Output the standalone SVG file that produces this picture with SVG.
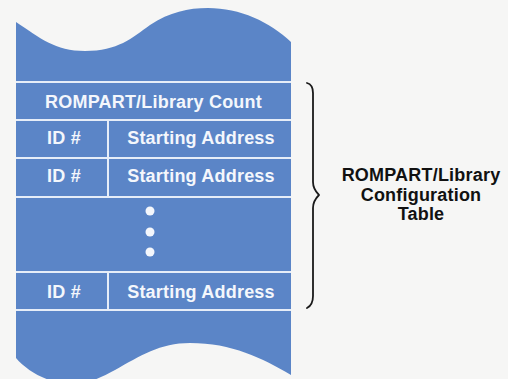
<svg xmlns="http://www.w3.org/2000/svg" width="508" height="379" viewBox="0 0 508 379">
<style>
.bg{fill:#f6f6f5}
.shape{fill:#5b85c7}
.rule{stroke:#e6edf8;stroke-width:2;fill:none}
.cell{font-family:"Liberation Sans",Arial,sans-serif;font-weight:bold;font-size:18px;letter-spacing:0.2px;fill:#f4f7fc;text-anchor:middle}
.dot{fill:#f4f7fc}
.brace{stroke:#1a1a1a;stroke-width:1.8;fill:none;stroke-linecap:round;stroke-linejoin:round}
.label{font-family:"Liberation Sans",Arial,sans-serif;font-weight:bold;font-size:18px;letter-spacing:0.2px;fill:#111;text-anchor:middle}
</style>
<rect class="bg" x="0" y="0" width="508" height="379"/>
<g id="table">
<path class="shape" d="M16,22 C40,38 55,51 85,51 C118,51 132,38 150,25 C170,12 188,8 208,8 C240,8 270,22 291,42 L291,375 C262,358 232,343 190,343 C160,343 140,356 115,370 C100,378 88,384 72,384 C50,384 28,372 16,358 Z"/>
</g>
<g id="connectors">
<line class="rule" x1="16" y1="82" x2="291" y2="82"/>
<line class="rule" x1="16" y1="120" x2="291" y2="120"/>
<line class="rule" x1="16" y1="158" x2="291" y2="158"/>
<line class="rule" x1="16" y1="197" x2="291" y2="197"/>
<line class="rule" x1="16" y1="272" x2="291" y2="272"/>
<line class="rule" x1="16" y1="310" x2="291" y2="310"/>
<line class="rule" x1="108" y1="120" x2="108" y2="197"/>
<line class="rule" x1="108" y1="272" x2="108" y2="310"/>
</g>
<g id="count-row">
<text class="cell" x="153.5" y="107.5">ROMPART/Library Count</text>
</g>
<g id="entry-1">
<text class="cell" x="64" y="143.5">ID #</text>
<text class="cell" x="201" y="143.5">Starting Address</text>
</g>
<g id="entry-2">
<text class="cell" x="64" y="182">ID #</text>
<text class="cell" x="201" y="182">Starting Address</text>
</g>
<g id="ellipsis">
<circle class="dot" cx="150" cy="211" r="4.5"/>
<circle class="dot" cx="150" cy="232" r="4.5"/>
<circle class="dot" cx="150" cy="252" r="4.5"/>
</g>
<g id="entry-n">
<text class="cell" x="64" y="297.5">ID #</text>
<text class="cell" x="201" y="297.5">Starting Address</text>
</g>
<g id="brace">
<path class="brace" d="M307,83 C311,84 313,87 313,93 L313,182 C313,188 316,192 319,195 C316,198 313,202 313,208 L313,296 C313,302 311,306 307,308"/>
</g>
<g id="config-label">
<text class="label" x="421" y="181">ROMPART/Library</text>
<text class="label" x="421" y="201">Configuration</text>
<text class="label" x="421" y="220">Table</text>
</g>
</svg>
